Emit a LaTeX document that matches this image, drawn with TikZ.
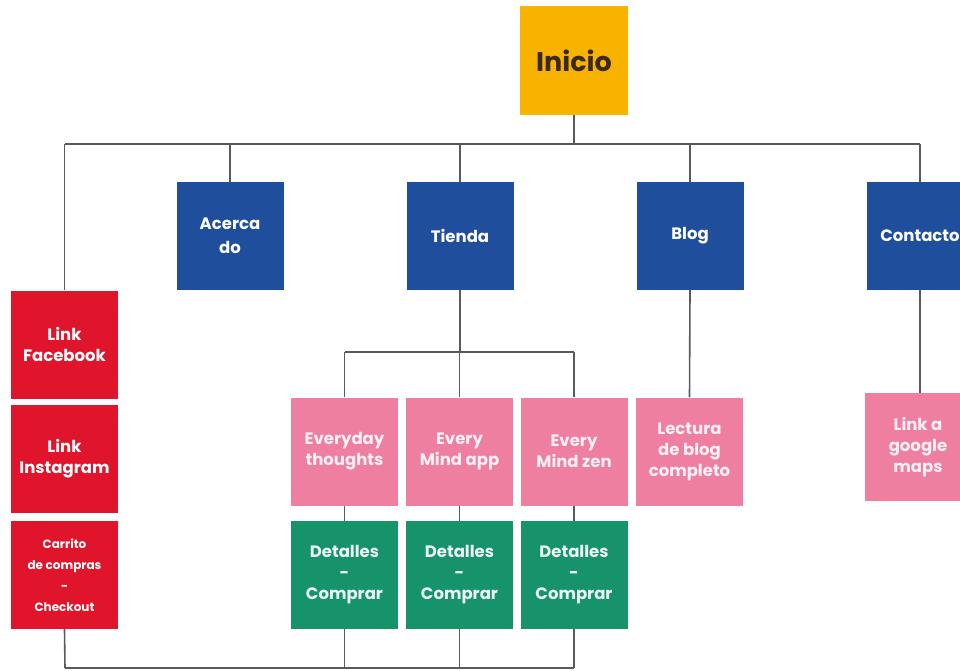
\documentclass[tikz,border=0pt]{standalone}
\usepackage{fontspec}
\setmainfont{Poppins}
\definecolor{cOrange}{HTML}{F8B200}
\definecolor{cBlue}{HTML}{1F4E9C}
\definecolor{cRed}{HTML}{E0142A}
\definecolor{cPink}{HTML}{EE7FA0}
\definecolor{cGreen}{HTML}{16936A}
\definecolor{cLine}{HTML}{5A5A5A}
\definecolor{cDark}{HTML}{3A2A10}
\tikzset{
  box/.style={minimum width=107, minimum height=108, inner sep=0, align=center, text=white,
    font=\bfseries\fontsize{16.5}{21}\selectfont},
  bluebox/.style={box, fill=cBlue},
  redbox/.style={box, fill=cRed},
  pinkbox/.style={box, fill=cPink, text=white!88!cPink},
  greenbox/.style={box, fill=cGreen, text=white!92!cGreen},
  conn/.style={draw=cLine, line width=1.6}
}
\begin{document}
\begin{tikzpicture}[x=1pt,y=-1pt]
\useasboundingbox (0,0) rectangle (960,671);
\clip (0,0) rectangle (960,671);
% nodes
\node[box, fill=cOrange, text=cDark, minimum width=108, minimum height=109, font=\bfseries\fontsize{27}{29}\selectfont] (inicio) at (574,60.5) {Inicio};
\node[bluebox, font=\bfseries\fontsize{16.5}{24}\selectfont] (acerca) at (230,236) {Acerca\\do};
\node[bluebox] (tienda) at (460,236) {Tienda};
\node[bluebox] (blog) at (690,236) {Blog};
\node[bluebox] (contacto) at (920,236) {Contacto};
\node[redbox] (fb) at (64.5,344.5) {Link\\Facebook};
\node[redbox] (ig) at (64.5,459) {Link\\Instagram};
\node[redbox, font=\bfseries\fontsize{12}{21}\selectfont] (car) at (64.5,575) {Carrito\\de compras\\-\\Checkout};
\node[pinkbox] (ev) at (344.5,451.5) {Everyday\\thoughts};
\node[pinkbox] (app) at (459.5,451.5) {Every\\Mind app};
\node[pinkbox] (zen) at (574,451.5) {Every\\Mind zen};
\node[pinkbox] (lect) at (689.5,451.5) {Lectura\\de blog\\completo};
\node[pinkbox] (maps) at (918,447) {Link a\\google\\maps};
\node[greenbox] (d1) at (344.5,575) {Detalles\\-\\Comprar};
\node[greenbox] (d2) at (459.5,575) {Detalles\\-\\Comprar};
\node[greenbox] (d3) at (574,575) {Detalles\\-\\Comprar};
% bus coordinates
\coordinate (busL) at (65,144);
\coordinate (busR) at (920,144);
\coordinate (tb) at (460,352);
\coordinate (bot) at (65,668);
% connectors
\draw[conn] (busL) -- (busR);
\draw[conn] (inicio.south) -- (inicio.south |- busL);
\draw[conn] (acerca.north) -- (acerca.north |- busL);
\draw[conn] (tienda.north) -- (tienda.north |- busL);
\draw[conn] (blog.north) -- (blog.north |- busL);
\draw[conn] (contacto.north) -- (contacto.north |- busL);
\draw[conn] (fb.north) -- (fb.north |- busL);
\draw[conn] (tienda.south) -- (tb);
\draw[conn] (ev.north |- tb) -- (zen.north |- tb);
\draw[conn] (ev.north) -- (ev.north |- tb);
\draw[conn] (app.north) -- (app.north |- tb);
\draw[conn] (zen.north) -- (zen.north |- tb);
\draw[conn] (ev.south) -- (d1.north);
\draw[conn] (app.south) -- (d2.north);
\draw[conn] (zen.south) -- (d3.north);
\draw[conn] (blog.south) -- (lect.north);
\draw[conn] (contacto.south) -- (contacto.south |- maps.north);
\draw[conn] (car.south) -- (bot);
\draw[conn] (bot) -- (d3.south |- bot);
\draw[conn] (d1.south) -- (d1.south |- bot);
\draw[conn] (d2.south) -- (d2.south |- bot);
\draw[conn] (d3.south) -- (d3.south |- bot);
\end{tikzpicture}
\end{document}
